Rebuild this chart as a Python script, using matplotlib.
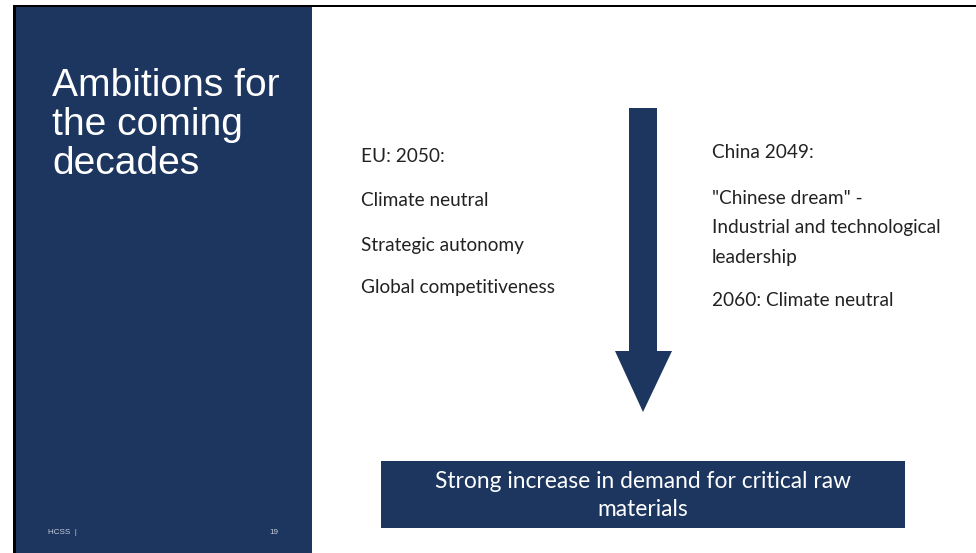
import matplotlib
matplotlib.use("Agg")
import matplotlib.pyplot as plt
from matplotlib.patches import Rectangle, Polygon

title_lines = ["Ambitions for", "the coming", "decades"]
eu_lines = ["EU: 2050:", "Climate neutral", "Strategic autonomy", "Global competitiveness"]
china_lines = ["China 2049:", "\"Chinese dream\" -", "Industrial and technological", "leadership", "2060: Climate neutral"]
box_lines = ["Strong increase in demand for critical raw", "materials"]
footer_left = "HCSS  |"
footer_right = "19"

NAVY = "#1d365f"
W, H = 976, 553
fig = plt.figure(figsize=(W / 100, H / 100), dpi=100)
ax = fig.add_axes([0, 0, 1, 1])
ax.set_xlim(0, W)
ax.set_ylim(H, 0)
ax.axis("off")

px = 0.72  # px -> pt

# left panel
ax.add_patch(Rectangle((15, 6), 297, H - 6, color=NAVY, lw=0))
ax.add_patch(Rectangle((13, 5), 3, H - 5, color="black", lw=0))
ax.add_patch(Rectangle((13, 5), W - 13, 2.2, color="black", lw=0))

for i, t in enumerate(title_lines):
    ax.text(52, 86 + i * 39, t, color="white", fontsize=39 * px,
            family="Liberation Sans", va="center", ha="left")

ax.text(48, 533, footer_left, color="#c8d0dc", fontsize=8 * px,
        family="Liberation Sans", va="center", ha="left")
ax.text(269, 533, footer_right, color="#c8d0dc", fontsize=8 * px,
        family="Liberation Sans", va="center", ha="left")

# arrow
ax.add_patch(Polygon([(629, 108), (657, 108), (657, 351), (672, 351),
                      (643, 412), (615, 351), (629, 351)],
                     closed=True, color=NAVY, lw=0))

body_font = "Lato"
eu_y = [157, 200, 245, 288]
for t, y in zip(eu_lines, eu_y):
    ax.text(361, y, t, color="#222222", fontsize=19 * px, family=body_font,
            va="center", ha="left")

cn_y = [153, 198, 227, 257, 301]
for t, y in zip(china_lines, cn_y):
    ax.text(712, y, t, color="#222222", fontsize=19 * px, family=body_font,
            va="center", ha="left")

# bottom box
ax.add_patch(Rectangle((381, 461), 524, 67, color=NAVY, lw=0))
for i, t in enumerate(box_lines):
    ax.text(643, 481 + i * 29, t, color="white", fontsize=22.8 * px,
            family=body_font, va="center", ha="center")

fig.savefig("out.png", dpi=100)
